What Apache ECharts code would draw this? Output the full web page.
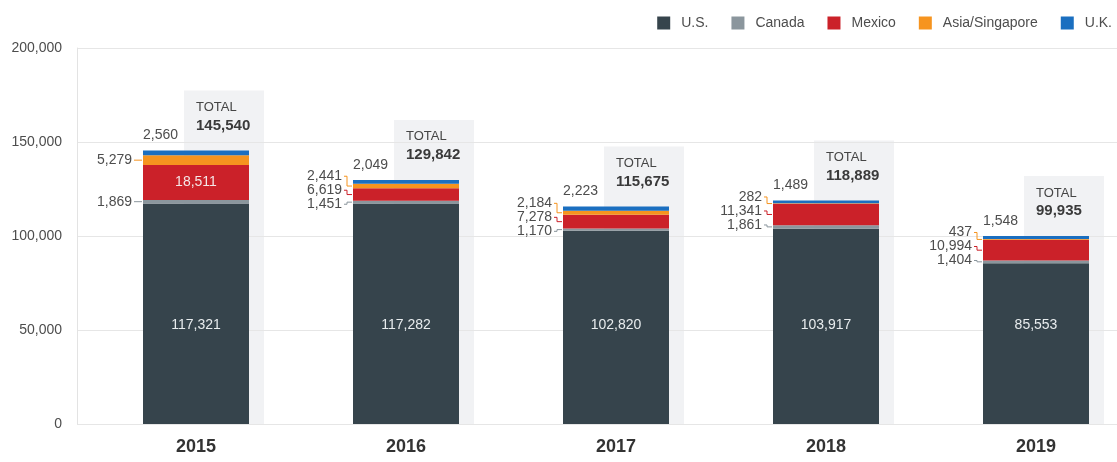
<!DOCTYPE html>
<html>
<head>
<meta charset="utf-8">
<script src="https://cdn.jsdelivr.net/npm/echarts@6/dist/echarts.min.js"></script>
<style>
  html, body { margin: 0; padding: 0; background: #fff; }
  #chart { width: 1117px; height: 462px; }
</style>
</head>
<body>
<div id="chart"></div>
<script>
// Shipments by destination, 2015–2019
const years = ['2015', '2016', '2017', '2018', '2019'];
const us = [117321, 117282, 102820, 103917, 85553];
const canada = [1869, 1451, 1170, 1861, 1404];
const mexico = [18511, 6619, 7278, 11341, 10994];
const asia = [5279, 2441, 2184, 282, 437];
const uk = [2560, 2049, 2223, 1489, 1548];
const totals = [145540, 129842, 115675, 118889, 99935];
const yTicks = [0, 50000, 100000, 150000, 200000];

const FONT = '"Liberation Sans", Arial, Helvetica, sans-serif';
const NARROW = '"Liberation Sans Narrow", "Liberation Sans", Arial, sans-serif';
const COLORS = {
  us: '#36444c',
  canada: '#8b969d',
  mexico: '#cb2129',
  asia: '#f6941f',
  uk: '#1b6fc0'
};
const BAR_W = 106;
const fmt = v => v.toLocaleString('en-US');

// Light panel behind each bar holding the total
function renderPanel(params, api) {
  const i = params.dataIndex;
  const base = api.coord([i, 0]);
  const topY = api.coord([i, totals[i]])[1] - 60;
  return {
    type: 'rect',
    shape: { x: base[0] - 12, y: topY, width: 80, height: base[1] - topY },
    style: { fill: '#f1f2f4' }
  };
}

// Totals, value above the stack and the side labels with leader lines
function renderLabels(params, api) {
  const i = params.dataIndex;
  const cx = api.coord([i, 0])[0];
  const left = cx - BAR_W / 2;
  const yOf = v => api.coord([i, v])[1];
  const topY = yOf(totals[i]);
  const c0 = us[i], c1 = c0 + canada[i], c2 = c1 + mexico[i];
  const children = [];
  const txt = (x, y, text, opts) => ({
    type: 'text',
    style: Object.assign({
      x: x, y: y, text: text, fill: '#4d4d4d', fontSize: 14,
      fontFamily: FONT, align: 'left', verticalAlign: 'middle'
    }, opts || {})
  });

  children.push(txt(cx, topY - 43, 'TOTAL', { fontSize: 13, fontFamily: NARROW, fill: '#454545' }));
  children.push(txt(cx, topY - 25, fmt(totals[i]), { fontSize: 15, fontWeight: 'bold', fill: '#3a3a3a' }));
  children.push(txt(left, topY - 15, fmt(uk[i])));

  const side = [];
  side.push({ v: asia[i], y: yOf(c2 + asia[i] / 2), color: COLORS.asia });
  const mexTop = yOf(c2), mexBot = yOf(c1);
  if (mexBot - mexTop > 30) {
    children.push(txt(cx, (mexTop + mexBot) / 2, fmt(mexico[i]), { align: 'center', fill: '#f4e6e6' }));
  } else {
    side.push({ v: mexico[i], y: (mexTop + mexBot) / 2, color: COLORS.mexico });
  }
  side.push({ v: canada[i], y: yOf(c0 + canada[i] / 2), color: COLORS.canada });

  const GAP = 14;
  let fits = true;
  for (let k = 1; k < side.length; k++) {
    if (side[k].y - side[k - 1].y < GAP) fits = false;
  }
  if (fits) {
    side.forEach(s => { s.ly = s.y; });
  } else {
    const mean = side.reduce((a, s) => a + s.y, 0) / side.length - 4;
    const start = mean - GAP * (side.length - 1) / 2;
    side.forEach((s, k) => { s.ly = start + k * GAP; });
  }
  side.forEach(s => {
    children.push(txt(left - 11, s.ly, fmt(s.v), { align: 'right' }));
    children.push({
      type: 'polyline',
      shape: { points: [[left - 9, s.ly], [left - 6, s.ly], [left - 6, s.y], [left - 1, s.y]] },
      style: { stroke: s.color, fill: null, lineWidth: 1 }
    });
  });
  return { type: 'group', children: children };
}

const stackSeries = (name, data, color, extra) => Object.assign({
  name: name,
  type: 'bar',
  stack: 'total',
  xAxisIndex: 1,
  yAxisIndex: 1,
  barWidth: BAR_W,
  data: data,
  itemStyle: { color: color },
  z: 3
}, extra || {});

const chart = echarts.init(document.getElementById('chart'), null, { renderer: 'canvas' });
chart.setOption({
  animation: false,
  textStyle: { fontFamily: FONT },
  legend: {
    data: ['U.S.', 'Canada', 'Mexico', 'Asia/Singapore', 'U.K.'],
    right: 0,
    top: 11,
    icon: 'rect',
    itemWidth: 13,
    itemHeight: 13,
    itemGap: 23,
    textStyle: { fontSize: 14, color: '#4d4d4d', padding: [0, 0, 0, 6], fontFamily: FONT }
  },
  grid: [
    { left: 77, right: 0, top: 48, bottom: 38, outerBoundsMode: 'none' },
    { left: 91, width: 1050, top: 48, bottom: 38, outerBoundsMode: 'none' }
  ],
  xAxis: [
    { gridIndex: 0, type: 'value', min: 0, max: 1, show: false },
    {
      gridIndex: 1, type: 'category', data: years,
      axisLine: { show: false }, axisTick: { show: false },
      axisLabel: { fontSize: 18, fontWeight: 'bold', color: '#333', margin: 14, fontFamily: FONT }
    }
  ],
  yAxis: [
    {
      gridIndex: 0, type: 'value', min: yTicks[0], max: yTicks[yTicks.length - 1], interval: yTicks[1] - yTicks[0],
      z: 1,
      axisLine: { show: true, lineStyle: { color: '#e3e3e3' } },
      axisTick: { show: false },
      axisLabel: { formatter: v => fmt(v), fontSize: 14, color: '#4d4d4d', margin: 15, fontFamily: FONT },
      splitLine: { lineStyle: { color: '#e6e6e6' } }
    },
    { gridIndex: 1, type: 'value', min: yTicks[0], max: yTicks[yTicks.length - 1], show: false }
  ],
  series: [
    {
      type: 'custom', xAxisIndex: 1, yAxisIndex: 1, z: 0, silent: true,
      renderItem: renderPanel,
      data: years.map((y, i) => [i, totals[i]])
    },
    stackSeries('U.S.', us, COLORS.us, {
      label: {
        show: true, position: 'insideBottom', distance: 92,
        formatter: p => fmt(p.value), color: '#e8ecee', fontSize: 14, fontFamily: FONT
      }
    }),
    stackSeries('Canada', canada, COLORS.canada),
    stackSeries('Mexico', mexico, COLORS.mexico),
    stackSeries('Asia/Singapore', asia, COLORS.asia),
    stackSeries('U.K.', uk, COLORS.uk),
    {
      type: 'custom', xAxisIndex: 1, yAxisIndex: 1, z: 5, silent: true,
      renderItem: renderLabels,
      data: years.map((y, i) => [i, totals[i]])
    }
  ]
});
</script>
</body>
</html>
